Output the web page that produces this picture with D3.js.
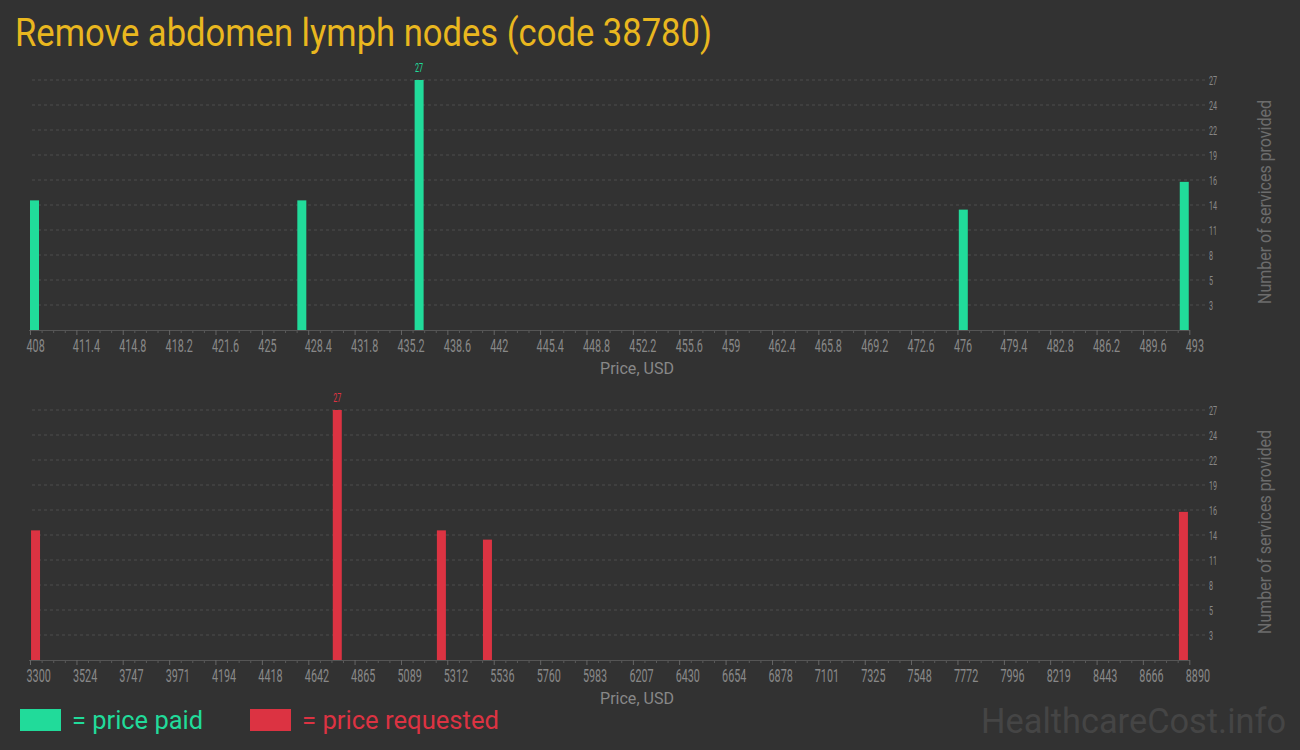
<!DOCTYPE html>
<html>
<head>
<meta charset="utf-8">
<script src="https://cdn.jsdelivr.net/npm/d3@7"></script>
<style>
  html, body { margin: 0; padding: 0; background: #323232; }
  svg { display: block; }
  text { font-family: Roboto, "DejaVu Sans Condensed", sans-serif; }
</style>
</head>
<body>
<svg id="chart" width="1300" height="750"></svg>
<script>
// ---- data ----
const titleText = "Remove abdomen lymph nodes (code 38780)";
const paidPrices = [408, 427.6, 436.2, 476.1, 492.3];
const paidCounts = [14, 14, 27, 13, 16];
const requestedPrices = [3305, 4760, 5262, 5484, 8840];
const requestedCounts = [14, 27, 14, 13, 16];
const paidTickLabels = ["408","411.4","414.8","418.2","421.6","425","428.4","431.8","435.2","438.6","442","445.4","448.8","452.2","455.6","459","462.4","465.8","469.2","472.6","476","479.4","482.8","486.2","489.6","493"];
const requestedTickLabels = ["3300","3524","3747","3971","4194","4418","4642","4865","5089","5312","5536","5760","5983","6207","6430","6654","6878","7101","7325","7548","7772","7996","8219","8443","8666","8890"];
const countTickValues = [2.7, 5.4, 8.1, 10.8, 13.5, 16.2, 18.9, 21.6, 24.3, 27];
const countTickLabels = ["3","5","8","11","14","16","19","22","24","27"];
const xLabel = "Price, USD";
const yLabel = "Number of services provided";
const legendLabels = ["= price paid", "= price requested"];
const watermark = "HealthcareCost.info";

// ---- styles ----
const BG = "#323232", GREEN = "#21db9a", RED = "#dc3342", GOLD = "#e9b71f";
const svg = d3.select("#chart");
svg.append("rect").attr("width", 1300).attr("height", 750).attr("fill", BG);

svg.append("text").text(titleText)
  .attr("x", 15).attr("y", 46)
  .attr("font-size", 38).attr("fill", GOLD)
  .attr("textLength", 697).attr("lengthAdjust", "spacingAndGlyphs");

function panel(offsetY, prices, counts, tickLabels, color) {
  const g = svg.append("g").attr("transform", `translate(0,${offsetY})`);
  const ticks = tickLabels.map(Number);
  const x = d3.scaleLinear().domain([ticks[0], ticks[ticks.length - 1]]).range([30, 1189.3]);
  const y = d3.scaleLinear().domain([0, 27]).range([330, 80]);

  // gridlines
  g.append("g").selectAll("line").data(countTickValues).join("line")
    .attr("x1", 32).attr("x2", 1206)
    .attr("y1", d => y(d)).attr("y2", d => y(d))
    .attr("stroke", "#4c4c4c").attr("stroke-width", 1).attr("stroke-dasharray", "3,3");

  // right axis labels
  const yAx = g.append("g").attr("transform", "translate(1209,0)")
    .call(d3.axisRight(y).tickValues(countTickValues).tickSize(0)
      .tickFormat((d, i) => countTickLabels[i]));
  yAx.select(".domain").remove();
  yAx.selectAll("text")
    .attr("x", 0).attr("dy", null).attr("y", 0)
    .attr("transform", "translate(0,4.3) scale(0.6,1)")
    .attr("font-size", 12).attr("fill", "#888").attr("text-anchor", "start")
    .style("font-family", "Roboto");

  // minor ticks
  const minor = [];
  for (let i = 0; i < ticks.length - 1; i++) {
    for (let k = 1; k < 4; k++) minor.push(ticks[i] + (ticks[i + 1] - ticks[i]) * k / 4);
  }
  const mAx = g.append("g").attr("transform", "translate(0,330)")
    .call(d3.axisBottom(x).tickValues(minor).tickSize(3).tickFormat(""));
  mAx.select(".domain").remove();
  mAx.selectAll("line").attr("stroke", "#5a5a5a");

  // major axis
  const xAx = g.append("g").attr("transform", "translate(0,330)")
    .call(d3.axisBottom(x).tickValues(ticks).tickSize(5).tickSizeOuter(0)
      .tickFormat((d, i) => tickLabels[i]));
  xAx.select(".domain").attr("stroke", "#555").attr("d", "M29,0.5H1190");
  xAx.selectAll(".tick line").attr("stroke", "#666");
  xAx.selectAll("text")
    .attr("x", 0).attr("y", 0).attr("dy", null)
    .attr("transform", "translate(-4,22) scale(0.6,1)")
    .attr("text-anchor", "start").attr("font-size", 18).attr("fill", "#888")
    .style("font-family", "Roboto");

  // bars
  g.append("g").selectAll("rect").data(prices).join("rect")
    .attr("x", d => x(d)).attr("width", 9)
    .attr("y", (d, i) => y(counts[i])).attr("height", (d, i) => y(0) - y(counts[i]))
    .attr("fill", color);

  // max label
  const maxI = d3.maxIndex(counts);
  g.append("text").text(counts[maxI])
    .attr("transform", `translate(${x(prices[maxI]) + 4.5},${y(counts[maxI]) - 8}) scale(0.6,1)`)
    .attr("text-anchor", "middle").attr("font-size", 12).attr("fill", color);

  // x label
  g.append("text").text(xLabel)
    .attr("x", 600).attr("y", 374)
    .attr("font-size", 17).attr("fill", "#888")
    .attr("textLength", 74).attr("lengthAdjust", "spacingAndGlyphs");

  // y label
  g.append("text").text(yLabel)
    .attr("transform", "translate(1271,202) rotate(-90)")
    .attr("text-anchor", "middle").attr("font-size", 18).attr("fill", "#6c6c6c")
    .attr("textLength", 204).attr("lengthAdjust", "spacingAndGlyphs");
}

panel(0, paidPrices, paidCounts, paidTickLabels, GREEN);
panel(330, requestedPrices, requestedCounts, requestedTickLabels, RED);

// legend
const legend = svg.append("g");
const legendColors = [GREEN, RED];
const legendX = [20, 250];
const legendTextW = [131, 197];
legendLabels.forEach((lab, i) => {
  legend.append("rect").attr("x", legendX[i]).attr("y", 709).attr("width", 41).attr("height", 22).attr("fill", legendColors[i]);
  legend.append("text").text(lab).attr("x", legendX[i] + 52).attr("y", 729)
    .attr("font-size", 25).attr("fill", legendColors[i])
    .attr("textLength", legendTextW[i]).attr("lengthAdjust", "spacingAndGlyphs");
});

svg.append("text").text(watermark)
  .attr("x", 981).attr("y", 733)
  .attr("font-size", 35).attr("fill", "#454545")
  .attr("textLength", 305).attr("lengthAdjust", "spacingAndGlyphs");
</script>
</body>
</html>
